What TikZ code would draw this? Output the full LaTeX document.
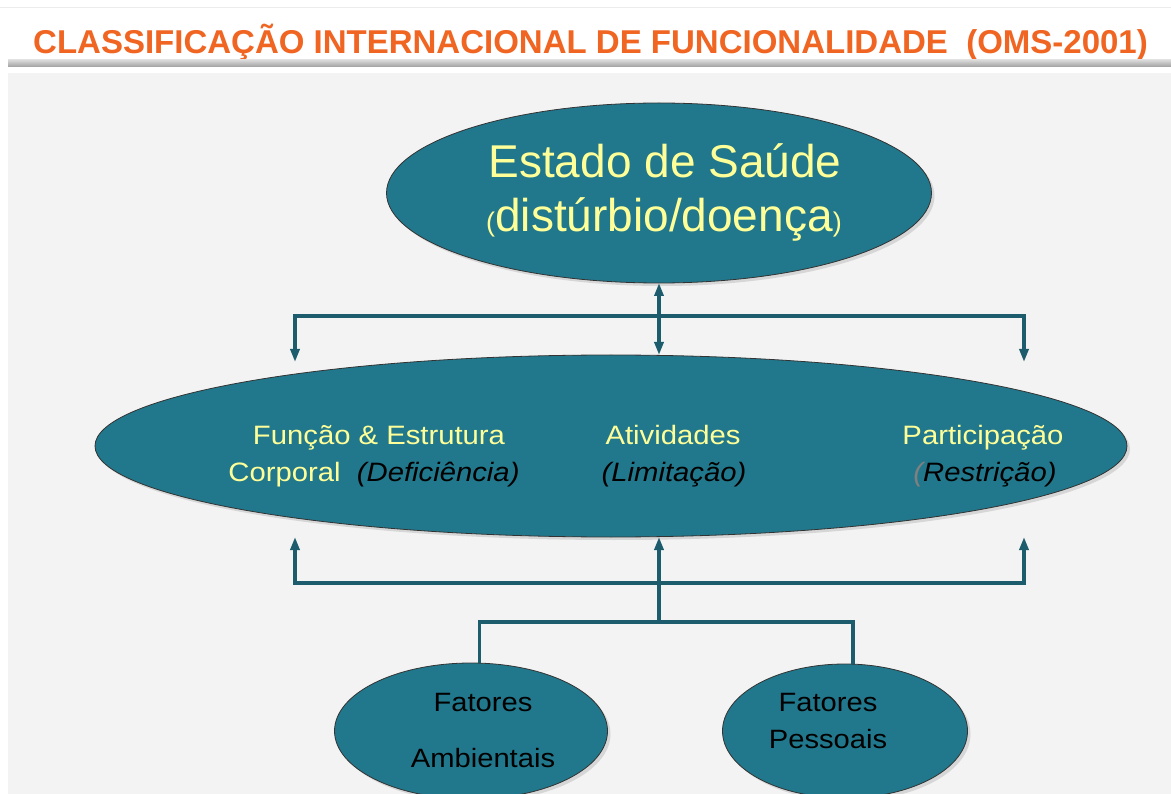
\documentclass[tikz,border=0pt]{standalone}
\usepackage{fontspec}
\setmainfont{Liberation Sans}
\newfontfamily\widefont[FakeStretch=1.1]{Liberation Sans}
\usetikzlibrary{shapes.geometric,arrows.meta,shadows}
\definecolor{ciforange}{RGB}{240,101,34}
\definecolor{cifteal}{RGB}{33,120,140}
\definecolor{ciflink}{RGB}{28,92,108}
\definecolor{cifyellow}{RGB}{255,255,153}
\definecolor{cifback}{RGB}{243,243,243}

\begin{document}
\begin{tikzpicture}[x=1pt,y=-1pt,
    >={Triangle[length=13pt,width=9pt]},
    bubble/.style={ellipse, fill=cifteal, draw=black!80, line width=0.8pt, inner sep=0pt, outer sep=0pt,
        drop shadow={opacity=0.25, shadow xshift=3pt, shadow yshift=-3pt}},
    link/.style={draw=ciflink, line width=3.5pt},
    midtxt/.style={anchor=base, inner sep=0pt, text=cifyellow, font=\widefont\fontsize{26.6}{26.6}\selectfont},
    lowtxt/.style={anchor=base, inner sep=0pt, text=black, font=\widefont\fontsize{26.5}{26.5}\selectfont}]
    \useasboundingbox (0,0) rectangle (1171,794);
    \clip (0,0) rectangle (1171,794);

    %% title band
    \fill[white] (0,0) rectangle (1171,794);
    \draw[gray!15, line width=1pt] (0,8) -- (1171,8);
    \node[anchor=base west, inner sep=0pt, text=ciforange, font=\fontsize{33}{33}\selectfont\bfseries] (titulo) at (33,53.5)
        {CLASSIFICAÇÃO INTERNACIONAL DE FUNCIONALIDADE~~(OMS-2001)};
    \shade[top color=gray!30, bottom color=gray!75] (8,60) rectangle (1171,67);
    \fill[cifback] (8,73) rectangle (1171,794);

    %% ellipses
    \node[bubble, minimum width=545pt, minimum height=180pt] (saude) at (659,193) {};
    \node[bubble, minimum width=1032pt, minimum height=182pt] (corpo) at (611,446) {};
    \node[bubble, minimum width=273pt, minimum height=136pt] (amb) at (471,731) {};
    \node[bubble, minimum width=245pt, minimum height=134pt] (pes) at (845,731) {};

    %% texts
    \node[anchor=base, inner sep=0pt, text=cifyellow, font=\fontsize{46}{46}\selectfont] (saude1) at (665,178) {Estado de Saúde};
    \node[anchor=base, inner sep=0pt, text=cifyellow, font=\fontsize{46}{46}\selectfont] (saude2) at (664,232)
        {{\fontsize{27}{27}\selectfont(}distúrbio/doença{\fontsize{27}{27}\selectfont)}};

    \node[midtxt] (func1) at (379,445) {Função \& Estrutura};
    \node[midtxt] (func2) at (374,481) {Corporal~~\textit{\color{black}(Deficiência)}};
    \node[midtxt] (ativ1) at (673,445) {Atividades};
    \node[midtxt] (ativ2) at (674,481) {\textit{\color{black}(Limitação)}};
    \node[midtxt] (part1) at (983,445) {Participação};
    \node[midtxt] (part2) at (985,481) {\textit{\color{gray}(\color{black}Restrição)}};

    \node[lowtxt] (amb1) at (483,711) {Fatores};
    \node[lowtxt] (amb2) at (483,767) {Ambientais};
    \node[lowtxt] (pes1) at (828,711) {Fatores};
    \node[lowtxt] (pes2) at (828,748) {Pessoais};

    %% connectors
    \coordinate (cimaL) at (295,362);
    \coordinate (cimaM) at (659,316);
    \coordinate (cimaR) at (1024,362);
    \coordinate (baixoL) at (295,537);
    \coordinate (baixoM) at (659,583);
    \coordinate (baixoR) at (1024,537);
    \coordinate (juncao) at (659,622);

    \draw[link,<->] (cimaL) |- (cimaM) -| (cimaR);
    \draw[link,<->] (saude.south) -- (saude.south |- corpo.north);
    \draw[link,<->] (baixoL) |- (baixoM) -| (baixoR);
    \draw[link,->] (juncao) -- (juncao |- corpo.south);
    \draw[link] (amb.83) |- (juncao) -| (pes.83);
\end{tikzpicture}
\end{document}
